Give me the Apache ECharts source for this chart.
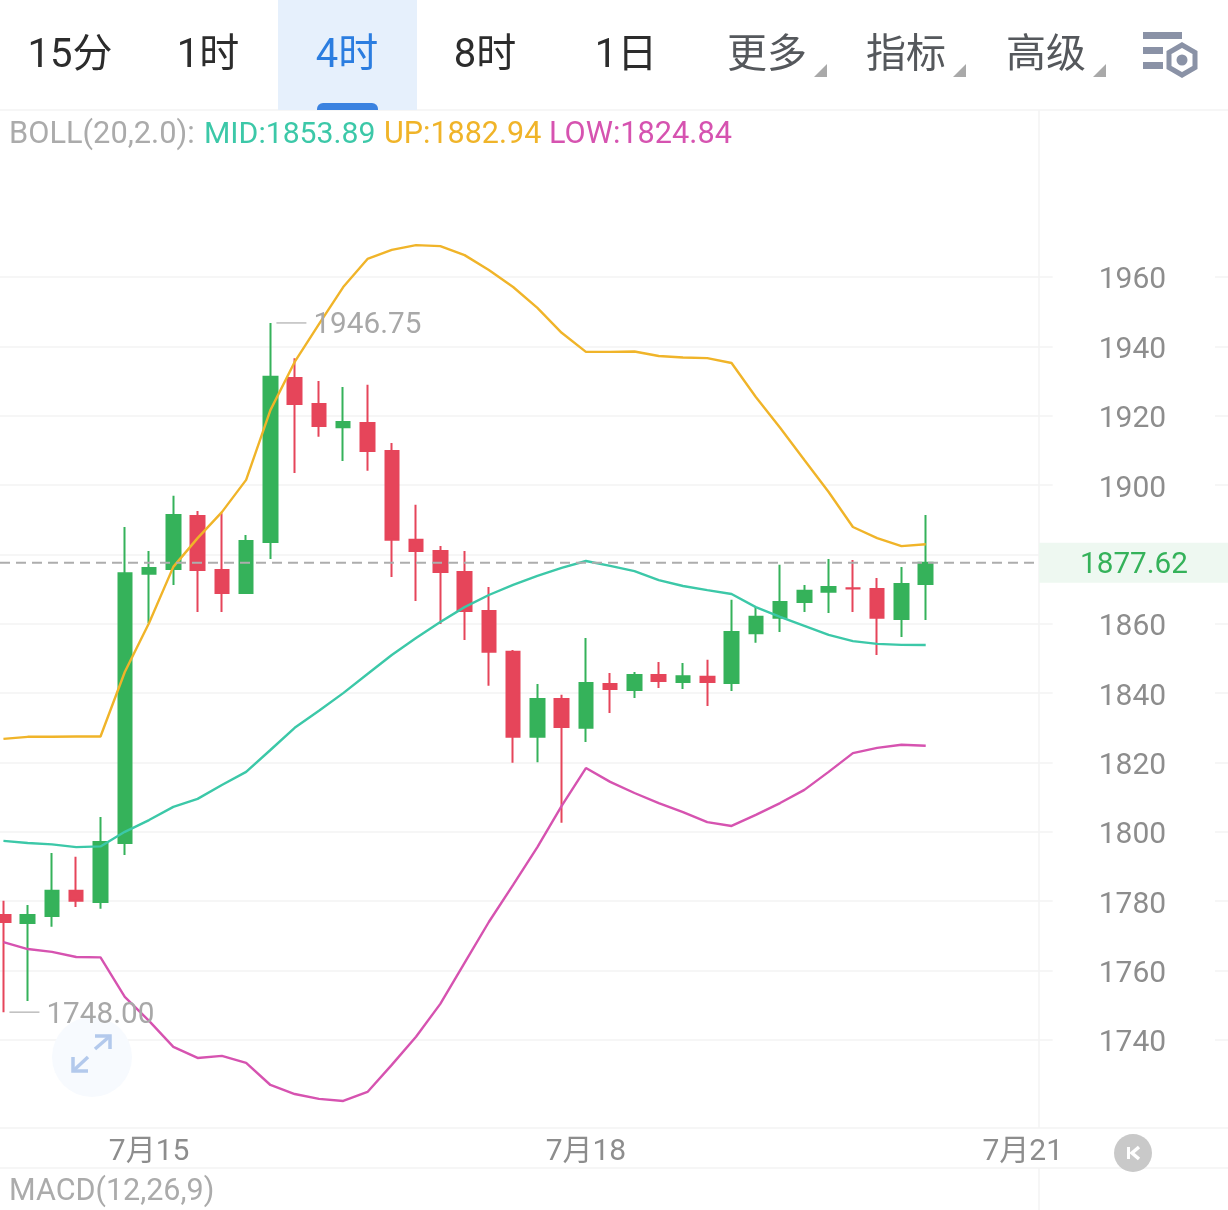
<!DOCTYPE html>
<html>
<head>
<meta charset="utf-8">
<style>html,body{margin:0;padding:0;background:#fff;overflow:hidden}#chart{width:1228px;height:1210px}</style>
<script src="https://cdn.jsdelivr.net/npm/echarts@6/dist/echarts.min.js"></script>
</head>
<body>
<div id="chart"></div>
<script>
// 4-hour gold candles with Bollinger bands: [open, close, low, high]
const candles = [
  [1776.0,1774.0,1748.0,1780.1],[1773.7,1776.0,1751.2,1778.9],[1775.7,1783.0,1772.6,1793.9],
  [1783.0,1780.1,1778.3,1792.8],[1779.8,1797.1,1777.8,1804.3],[1796.8,1874.6,1793.3,1887.9],
  [1874.4,1876.1,1860.2,1881.0],[1875.8,1891.4,1871.2,1896.9],[1891.1,1875.5,1863.4,1892.5],
  [1875.5,1868.9,1863.4,1891.9],[1868.9,1883.9,1868.9,1885.6],[1883.6,1931.2,1878.7,1946.75],
  [1930.9,1923.4,1903.5,1936.6],[1923.4,1917.0,1913.9,1930.0],[1916.7,1918.2,1906.9,1928.3],
  [1917.9,1909.8,1904.1,1928.9],[1909.8,1884.2,1873.5,1912.1],[1884.2,1881.0,1866.6,1894.3],
  [1881.0,1874.9,1859.9,1882.4],[1874.9,1863.7,1855.3,1881.0],[1863.7,1851.9,1842.1,1870.6],
  [1851.9,1827.4,1819.9,1852.4],[1827.4,1838.3,1820.1,1842.6],[1838.3,1830.2,1802.6,1839.5],
  [1830.0,1842.9,1825.9,1855.9],[1842.6,1841.2,1834.3,1845.8],[1840.9,1845.2,1838.6,1846.1],
  [1845.2,1843.5,1841.5,1849.0],[1843.2,1844.9,1841.2,1848.7],[1844.7,1843.2,1836.3,1849.6],
  [1842.9,1857.6,1840.6,1866.9],[1857.3,1862.0,1854.5,1864.8],[1861.7,1866.3,1857.6,1877.0],
  [1866.3,1869.5,1863.4,1871.2],[1869.2,1870.6,1863.1,1878.7],[1870.25,1870.2,1863.4,1878.4],
  [1870.0,1861.7,1851.0,1873.2],[1861.4,1871.5,1856.2,1876.4],[1871.5,1877.62,1861.1,1891.4]
];
const bollMid = [1797.4,1796.8,1796.4,1795.6,1795.8,1800.0,1803.4,1807.2,1809.5,1813.5,1817.3,1823.6,1830.0,
  1834.9,1840.0,1845.5,1851.0,1855.9,1860.5,1864.8,1868.3,1871.2,1873.8,1876.1,1878.1,1876.7,1875.2,1872.6,
  1870.9,1869.7,1868.6,1864.8,1862.0,1859.4,1856.8,1855.0,1854.2,1853.9,1853.89];
const bollUp = [1826.8,1827.4,1827.4,1827.5,1827.5,1846.1,1860.2,1876.4,1884.7,1892.2,1901.5,1921.6,1935.5,
  1946.4,1957.1,1965.2,1967.8,1969.2,1968.9,1966.3,1962.0,1957.1,1951.1,1943.9,1938.4,1938.4,1938.5,1937.2,
  1936.8,1936.6,1935.2,1925.4,1916.5,1907.2,1898.0,1887.9,1884.7,1882.4,1882.94];
const bollLow = [1768.2,1766.2,1765.4,1763.9,1763.8,1752.4,1745.5,1738.0,1734.8,1735.4,1733.4,1727.0,1724.4,
  1723.0,1722.4,1725.0,1732.8,1740.9,1750.4,1762.2,1774.0,1784.7,1795.6,1807.5,1818.4,1814.4,1811.2,1808.3,
  1805.7,1802.8,1801.7,1804.9,1808.3,1812.1,1817.3,1822.7,1824.2,1825.1,1824.84];
const priceTicks = [1740,1760,1780,1800,1820,1840,1860,1880,1900,1920,1940,1960];
const dayLabels = {6:'7月15',24:'7月18',42:'7月21'};
const periods = ['15分','1时','4时','8时','1日'];
const menus = ['更多','指标','高级'];
const lastPrice = 1877.62;
const extremes = [[11,1946.75],[0,1748.00]];

const categories = [];
for (let i = 0; i < 51; i++) categories.push(dayLabels[i] || 'bar' + i);

const UI_FONT = 'Roboto, "Noto Sans CJK SC", sans-serif';
const GREEN = '#35b25a', RED = '#e6455a', LINE = '#f3f3f3';
const font = (size) => size + 'px ' + UI_FONT;

function label(x, y, text, fill, size, align) {
  return {type:'text', z:20, style:{x, y, text, fill, font:font(size), textAlign:align || 'left', textVerticalAlign:'middle'}};
}
function rule(x1, y1, x2, y2, stroke) {
  return {type:'line', z:1, shape:{x1, y1, x2, y2}, style:{stroke, lineWidth:1.5}};
}
function poly(points, stroke, lineWidth, z) {
  return {type:'polyline', z:z || 21, shape:{points}, style:{stroke, lineWidth, fill:null}};
}

// Header toolbar, indicator captions and the small floating controls
const periodX = [70,208,347,485,626];
const menuX = [767,906,1046];
const toolbar = [
  {type:'rect', z:19, shape:{x:278,y:0,width:139,height:110}, style:{fill:'#e6f0fc'}},
  {type:'rect', z:19, shape:{x:317,y:103,width:61,height:7,r:[6,6,0,0]}, style:{fill:'#3a82e0'}},
  rule(0,110,1228,110,LINE),
  rule(1039,110,1039,1128,LINE),
  rule(1039,1168,1039,1210,LINE),
  rule(0,1128,1228,1128,LINE),
  rule(0,1168,1228,1168,LINE)
];
periods.forEach((p,i) => toolbar.push(label(periodX[i],57,p,i===2?'#2b7de0':'#2c2c2c',40,'center')));
menus.forEach((m,i) => {
  toolbar.push(label(menuX[i],57,m,'#55585c',40,'center'));
  const r = menuX[i] + 60;
  toolbar.push({type:'polygon', z:20, shape:{points:[[r,64],[r,77],[r-13,77]]}, style:{fill:'#a9a9a9'}});
});
toolbar.push(
  {type:'rect', z:20, shape:{x:1143,y:32,width:39,height:7}, style:{fill:'#8a92a6'}},
  {type:'rect', z:20, shape:{x:1143,y:47,width:20,height:7}, style:{fill:'#8a92a6'}},
  {type:'rect', z:20, shape:{x:1143,y:62,width:20,height:7}, style:{fill:'#8a92a6'}},
  {type:'polygon', z:20, shape:{points:[[1182,45],[1195,52.5],[1195,67.5],[1182,75],[1169,67.5],[1169,52.5]]}, style:{fill:'#fff',stroke:'#8a92a6',lineWidth:5}},
  {type:'circle', z:21, shape:{cx:1182,cy:60,r:5.5}, style:{fill:'#8a92a6'}},
  label(9,135,'BOLL(20,2.0):','#ababab',30.8),
  label(204,135,'MID:' + bollMid[bollMid.length-1].toFixed(2),'#3cc8a8',30.2),
  label(384,135,'UP:' + bollUp[bollUp.length-1].toFixed(2),'#f0b429',30.5),
  label(549,135,'LOW:' + bollLow[bollLow.length-1].toFixed(2),'#d653b0',30.7),
  label(9,1192,'MACD(12,26,9)','#ababab',30.5),
  {type:'circle', z:3, shape:{cx:92,cy:1057,r:40}, style:{fill:'#f7fafe'}},
  poly([[95,1036],[110,1036],[110,1049]],'#b3c9ec',3.5),
  poly([[95,1049],[110,1036]],'#b3c9ec',3.5),
  poly([[73,1057],[73,1071],[88,1071]],'#b3c9ec',3.5),
  poly([[73,1071],[88,1057]],'#b3c9ec',3.5),
  {type:'circle', z:20, shape:{cx:1133,cy:1153,r:19}, style:{fill:'#c9c9c9'}},
  {type:'rect', z:21, shape:{x:1127,y:1147,width:3,height:12}, style:{fill:'#fff'}},
  poly([[1139,1147],[1132,1153],[1139,1159]],'#fff',3.5)
);

const bandLine = (name, data, color) => ({
  name, type:'line', data, showSymbol:false, lineStyle:{color, width:2.4}, z:4, silent:true, animation:false
});

const chart = echarts.init(document.getElementById('chart'), null, {renderer:'canvas'});
chart.setOption({
  animation:false,
  backgroundColor:'#fff',
  graphic:{elements:toolbar},
  grid:{left:-8.7, top:110, width:1237.8, height:1018, containLabel:false, outerBoundsMode:'none'},
  xAxis:{
    type:'category', data:categories, boundaryGap:true,
    axisLine:{show:false}, axisTick:{show:false}, splitLine:{show:false},
    axisLabel:{
      interval:0, margin:9, color:'#8d8d8d', fontSize:30, fontFamily:UI_FONT, hideOverlap:false,
      formatter:(v) => v.startsWith('bar') ? '' : v
    }
  },
  yAxis:{
    type:'value', position:'right', min:1714.6, max:2008.15, scale:true,
    axisLine:{show:false},
    axisTick:{show:false, customValues:priceTicks},
    splitLine:{show:true, lineStyle:{color:LINE, width:1.5}},
    axisLabel:{
      inside:true, margin:14, customValues:priceTicks,
      backgroundColor:'#fff', padding:[0,49,0,46], showMinLabel:true, showMaxLabel:true,
      // A tall line box lets the digits sit a little below the grid line they name
      formatter:(v) => '{t|' + v + '}',
      rich:{t:{color:'#8d8d8d', fontSize:30, fontFamily:UI_FONT, lineHeight:38, verticalAlign:'bottom'}}
    }
  },
  series:[
    {
      type:'candlestick', data:candles, barWidth:14, z:3, silent:true, animation:false,
      itemStyle:{color:GREEN, color0:RED, borderColor:GREEN, borderColor0:RED, borderWidth:2}
    },
    bandLine('MID', bollMid, '#3cc8a8'),
    bandLine('UP', bollUp, '#f0b429'),
    bandLine('LOW', bollLow, '#d653b0'),
    {
      // Last-price guide and its tag on the axis
      type:'custom', z:6, silent:true, animation:false,
      data:[[0,lastPrice]],
      renderItem:(params, api) => {
        const y = api.coord([api.value(0), api.value(1)])[1];
        return {type:'group', children:[
          {type:'line', shape:{x1:0,y1:y,x2:1036,y2:y}, style:{stroke:'#adadad',lineWidth:2,lineDash:[10,6]}},
          {type:'rect', shape:{x:1039,y:y-20,width:189,height:40}, style:{fill:'#eef8f1'}},
          {type:'text', style:{x:1134,y:y+3,text:api.value(1).toFixed(2),fill:GREEN,font:font(29.7),textAlign:'center',textVerticalAlign:'middle'}}
        ]};
      }
    },
    {
      // Highest and lowest prices in view, tied to their candles
      type:'custom', z:6, silent:true, animation:false,
      data:extremes,
      renderItem:(params, api) => {
        const p = api.coord([api.value(0), api.value(1)]);
        return {type:'group', children:[
          {type:'line', shape:{x1:p[0]+6,y1:p[1],x2:p[0]+36,y2:p[1]}, style:{stroke:'#bdbdbd',lineWidth:1.5}},
          {type:'text', style:{x:p[0]+43,y:p[1]+3,text:api.value(1).toFixed(2),fill:'#a8a8a8',font:font(29.7),textVerticalAlign:'middle'}}
        ]};
      }
    }
  ]
});
</script>
</body>
</html>
